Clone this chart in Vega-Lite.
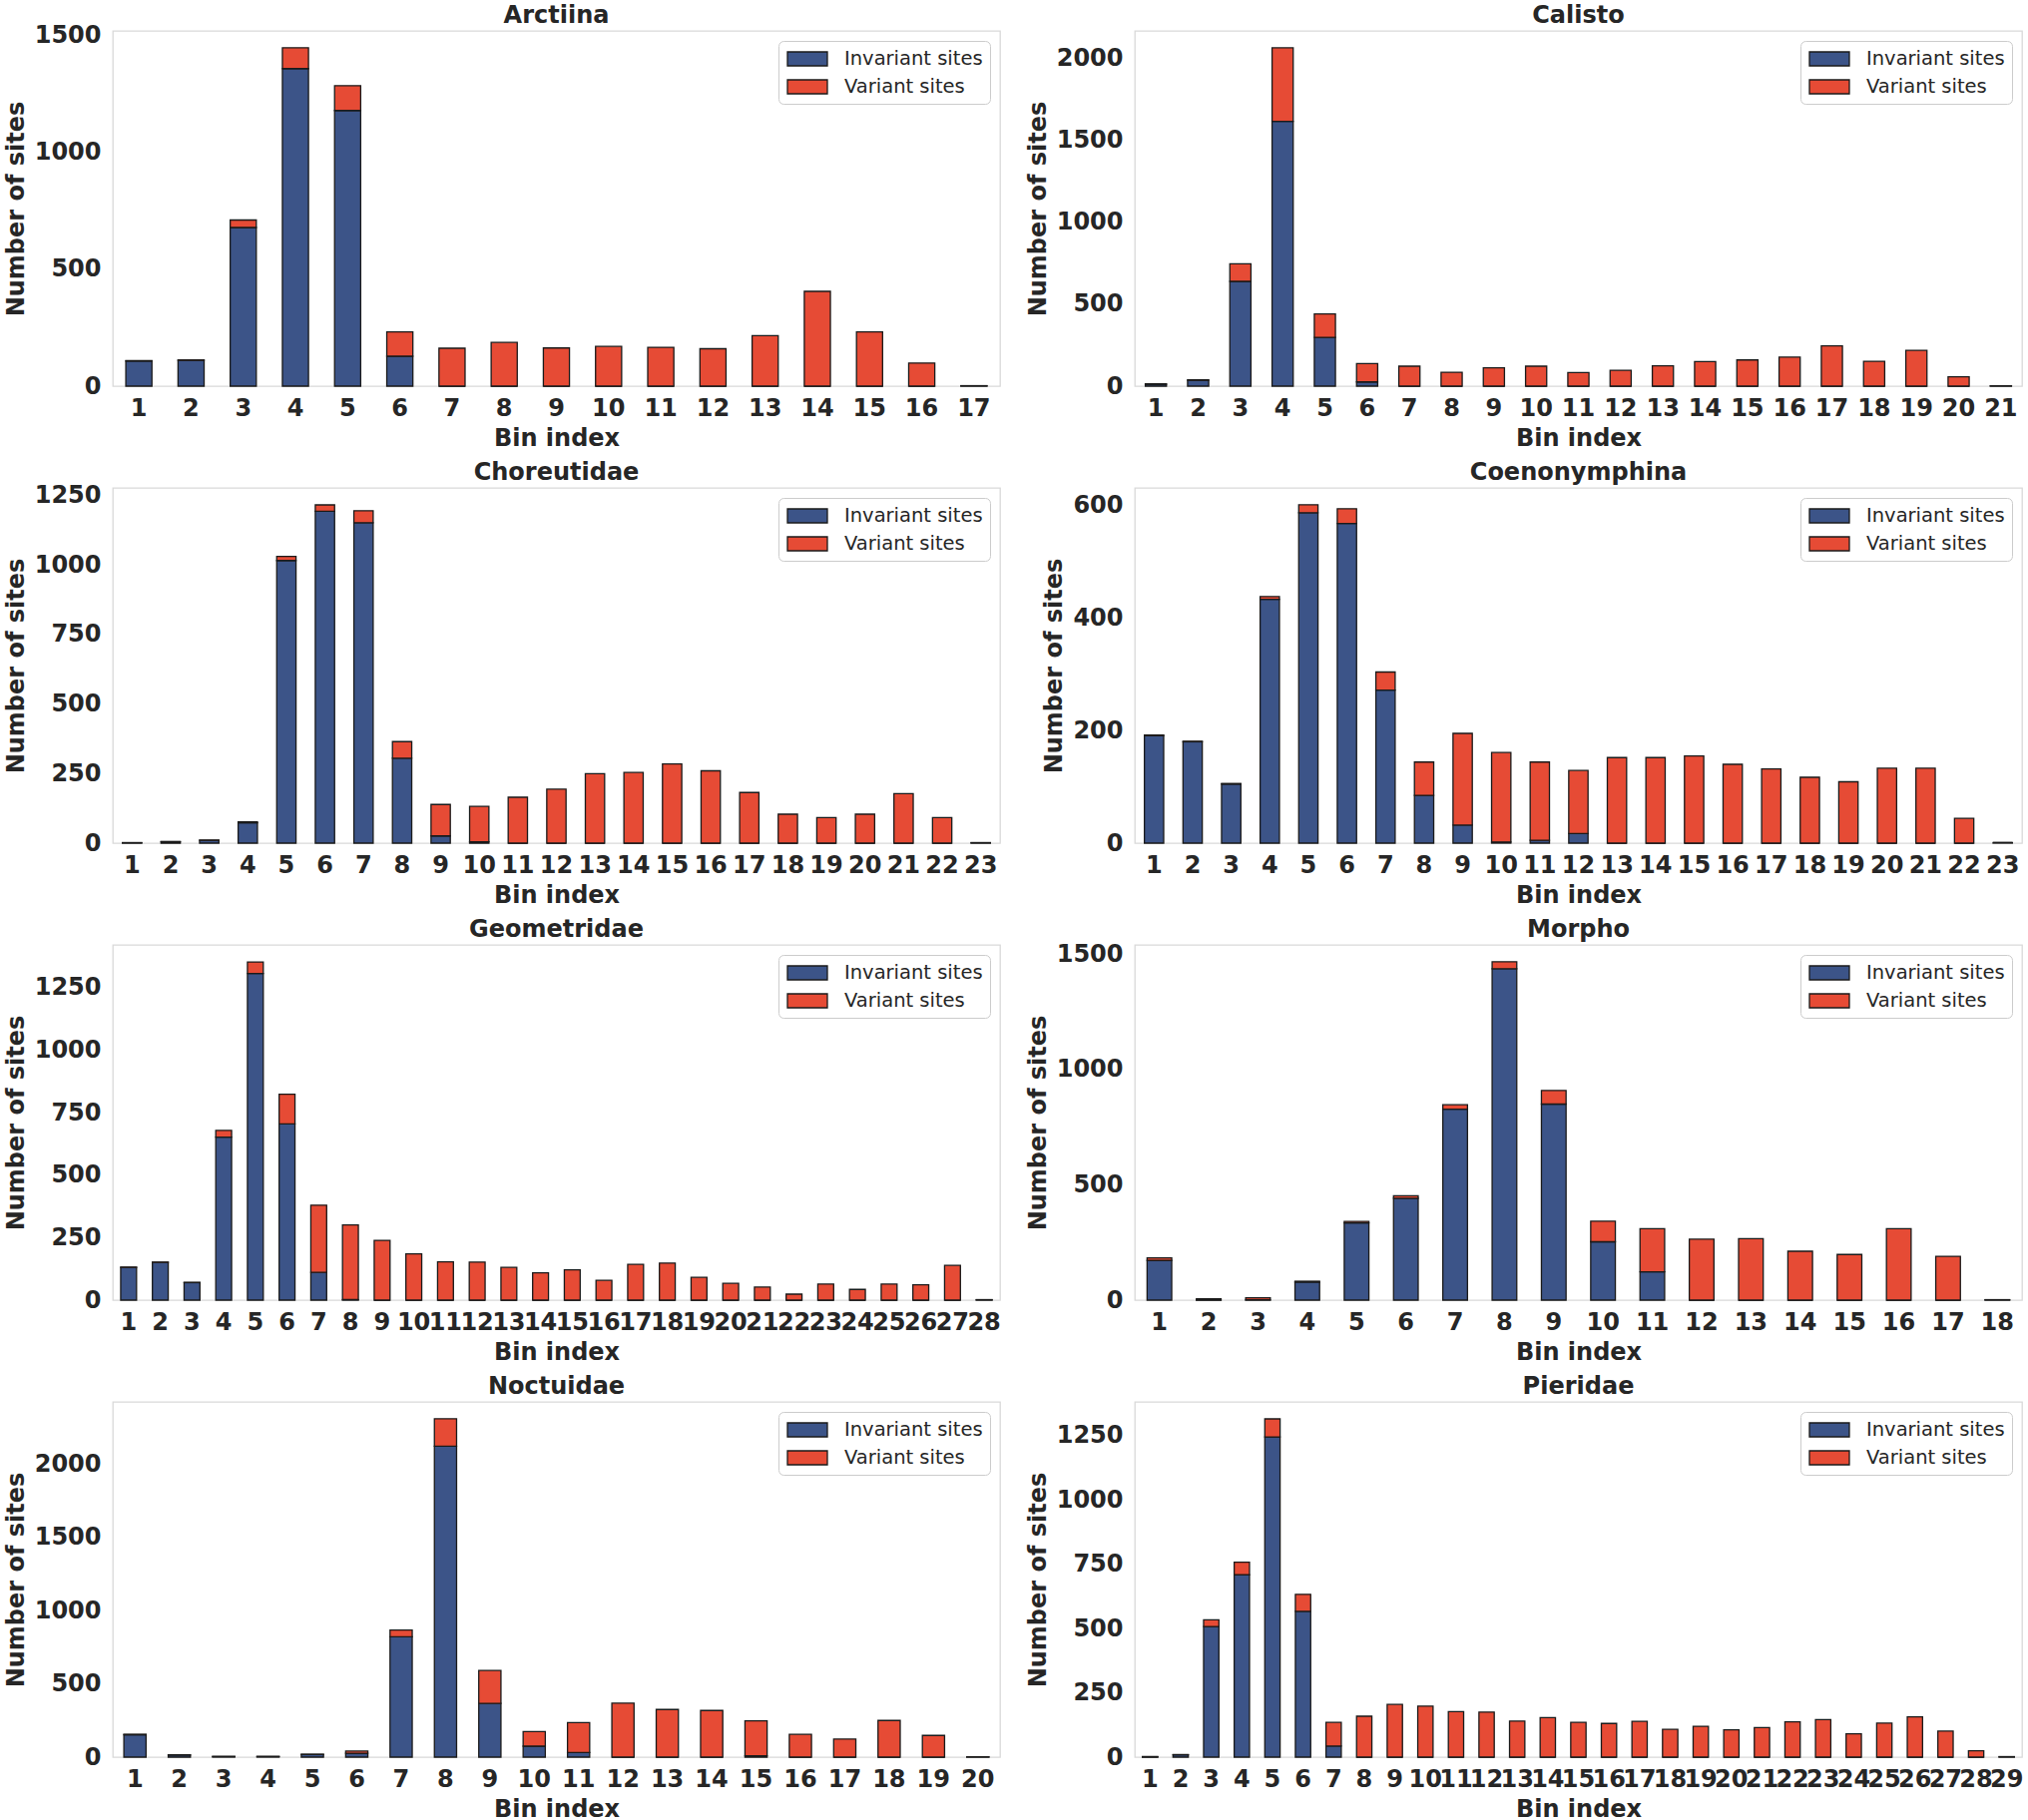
{
  "$schema": "https://vega.github.io/schema/vega-lite/v6.json",
  "background": "white",
  "padding": {"left": 3, "top": 3, "right": 2, "bottom": 2},
  "columns": 2,
  "spacing": {"row": 102, "column": 135},
  "bounds": "flush",
  "resolve": {"scale": {"color": "independent"}, "legend": {"color": "independent"}},
  "datasets": {
    "arctiina": [
      {"bin": 1, "Invariant sites": 107, "Variant sites": 2},
      {"bin": 2, "Invariant sites": 110, "Variant sites": 2},
      {"bin": 3, "Invariant sites": 678, "Variant sites": 32},
      {"bin": 4, "Invariant sites": 1357, "Variant sites": 89},
      {"bin": 5, "Invariant sites": 1178, "Variant sites": 106},
      {"bin": 6, "Invariant sites": 128, "Variant sites": 104},
      {"bin": 7, "Invariant sites": 0, "Variant sites": 162},
      {"bin": 8, "Invariant sites": 0, "Variant sites": 187},
      {"bin": 9, "Invariant sites": 0, "Variant sites": 163},
      {"bin": 10, "Invariant sites": 0, "Variant sites": 170},
      {"bin": 11, "Invariant sites": 0, "Variant sites": 166},
      {"bin": 12, "Invariant sites": 0, "Variant sites": 160},
      {"bin": 13, "Invariant sites": 0, "Variant sites": 216},
      {"bin": 14, "Invariant sites": 0, "Variant sites": 405},
      {"bin": 15, "Invariant sites": 0, "Variant sites": 232},
      {"bin": 16, "Invariant sites": 0, "Variant sites": 99},
      {"bin": 17, "Invariant sites": 1, "Variant sites": 1}
    ],
    "calisto": [
      {"bin": 1, "Invariant sites": 12, "Variant sites": 2},
      {"bin": 2, "Invariant sites": 36, "Variant sites": 3},
      {"bin": 3, "Invariant sites": 640, "Variant sites": 107},
      {"bin": 4, "Invariant sites": 1618, "Variant sites": 449},
      {"bin": 5, "Invariant sites": 298, "Variant sites": 143},
      {"bin": 6, "Invariant sites": 26, "Variant sites": 112},
      {"bin": 7, "Invariant sites": 0, "Variant sites": 122},
      {"bin": 8, "Invariant sites": 0, "Variant sites": 85},
      {"bin": 9, "Invariant sites": 0, "Variant sites": 112},
      {"bin": 10, "Invariant sites": 0, "Variant sites": 122},
      {"bin": 11, "Invariant sites": 0, "Variant sites": 83},
      {"bin": 12, "Invariant sites": 0, "Variant sites": 97},
      {"bin": 13, "Invariant sites": 0, "Variant sites": 124},
      {"bin": 14, "Invariant sites": 0, "Variant sites": 150},
      {"bin": 15, "Invariant sites": 0, "Variant sites": 160},
      {"bin": 16, "Invariant sites": 0, "Variant sites": 177},
      {"bin": 17, "Invariant sites": 0, "Variant sites": 246},
      {"bin": 18, "Invariant sites": 0, "Variant sites": 152},
      {"bin": 19, "Invariant sites": 0, "Variant sites": 219},
      {"bin": 20, "Invariant sites": 0, "Variant sites": 57},
      {"bin": 21, "Invariant sites": 1, "Variant sites": 1}
    ],
    "choreutidae": [
      {"bin": 1, "Invariant sites": 1, "Variant sites": 1},
      {"bin": 2, "Invariant sites": 5, "Variant sites": 1},
      {"bin": 3, "Invariant sites": 10, "Variant sites": 1},
      {"bin": 4, "Invariant sites": 73, "Variant sites": 4},
      {"bin": 5, "Invariant sites": 1016, "Variant sites": 15},
      {"bin": 6, "Invariant sites": 1193, "Variant sites": 23},
      {"bin": 7, "Invariant sites": 1152, "Variant sites": 43},
      {"bin": 8, "Invariant sites": 305, "Variant sites": 60},
      {"bin": 9, "Invariant sites": 26, "Variant sites": 113},
      {"bin": 10, "Invariant sites": 5, "Variant sites": 127},
      {"bin": 11, "Invariant sites": 0, "Variant sites": 165},
      {"bin": 12, "Invariant sites": 0, "Variant sites": 194},
      {"bin": 13, "Invariant sites": 0, "Variant sites": 250},
      {"bin": 14, "Invariant sites": 0, "Variant sites": 254},
      {"bin": 15, "Invariant sites": 0, "Variant sites": 285},
      {"bin": 16, "Invariant sites": 0, "Variant sites": 260},
      {"bin": 17, "Invariant sites": 0, "Variant sites": 182},
      {"bin": 18, "Invariant sites": 0, "Variant sites": 104},
      {"bin": 19, "Invariant sites": 0, "Variant sites": 92},
      {"bin": 20, "Invariant sites": 0, "Variant sites": 104},
      {"bin": 21, "Invariant sites": 0, "Variant sites": 178},
      {"bin": 22, "Invariant sites": 0, "Variant sites": 92},
      {"bin": 23, "Invariant sites": 1, "Variant sites": 1}
    ],
    "coenonymphina": [
      {"bin": 1, "Invariant sites": 191, "Variant sites": 1},
      {"bin": 2, "Invariant sites": 180, "Variant sites": 1},
      {"bin": 3, "Invariant sites": 105, "Variant sites": 1},
      {"bin": 4, "Invariant sites": 433, "Variant sites": 5},
      {"bin": 5, "Invariant sites": 587, "Variant sites": 14},
      {"bin": 6, "Invariant sites": 568, "Variant sites": 26},
      {"bin": 7, "Invariant sites": 272, "Variant sites": 32},
      {"bin": 8, "Invariant sites": 85, "Variant sites": 59},
      {"bin": 9, "Invariant sites": 32, "Variant sites": 163},
      {"bin": 10, "Invariant sites": 2, "Variant sites": 159},
      {"bin": 11, "Invariant sites": 5, "Variant sites": 139},
      {"bin": 12, "Invariant sites": 17, "Variant sites": 112},
      {"bin": 13, "Invariant sites": 0, "Variant sites": 152},
      {"bin": 14, "Invariant sites": 0, "Variant sites": 152},
      {"bin": 15, "Invariant sites": 0, "Variant sites": 155},
      {"bin": 16, "Invariant sites": 0, "Variant sites": 140},
      {"bin": 17, "Invariant sites": 0, "Variant sites": 132},
      {"bin": 18, "Invariant sites": 0, "Variant sites": 117},
      {"bin": 19, "Invariant sites": 0, "Variant sites": 109},
      {"bin": 20, "Invariant sites": 0, "Variant sites": 133},
      {"bin": 21, "Invariant sites": 0, "Variant sites": 133},
      {"bin": 22, "Invariant sites": 0, "Variant sites": 44},
      {"bin": 23, "Invariant sites": 1, "Variant sites": 0}
    ],
    "geometridae": [
      {"bin": 1, "Invariant sites": 131, "Variant sites": 1},
      {"bin": 2, "Invariant sites": 151, "Variant sites": 1},
      {"bin": 3, "Invariant sites": 70, "Variant sites": 1},
      {"bin": 4, "Invariant sites": 652, "Variant sites": 27},
      {"bin": 5, "Invariant sites": 1307, "Variant sites": 46},
      {"bin": 6, "Invariant sites": 705, "Variant sites": 119},
      {"bin": 7, "Invariant sites": 111, "Variant sites": 269},
      {"bin": 8, "Invariant sites": 2, "Variant sites": 299},
      {"bin": 9, "Invariant sites": 0, "Variant sites": 239},
      {"bin": 10, "Invariant sites": 0, "Variant sites": 185},
      {"bin": 11, "Invariant sites": 0, "Variant sites": 153},
      {"bin": 12, "Invariant sites": 0, "Variant sites": 152},
      {"bin": 13, "Invariant sites": 0, "Variant sites": 131},
      {"bin": 14, "Invariant sites": 0, "Variant sites": 109},
      {"bin": 15, "Invariant sites": 0, "Variant sites": 121},
      {"bin": 16, "Invariant sites": 0, "Variant sites": 79},
      {"bin": 17, "Invariant sites": 0, "Variant sites": 143},
      {"bin": 18, "Invariant sites": 0, "Variant sites": 148},
      {"bin": 19, "Invariant sites": 0, "Variant sites": 91},
      {"bin": 20, "Invariant sites": 0, "Variant sites": 67},
      {"bin": 21, "Invariant sites": 0, "Variant sites": 52},
      {"bin": 22, "Invariant sites": 0, "Variant sites": 24},
      {"bin": 23, "Invariant sites": 0, "Variant sites": 64},
      {"bin": 24, "Invariant sites": 0, "Variant sites": 43},
      {"bin": 25, "Invariant sites": 0, "Variant sites": 64},
      {"bin": 26, "Invariant sites": 0, "Variant sites": 61},
      {"bin": 27, "Invariant sites": 0, "Variant sites": 139},
      {"bin": 28, "Invariant sites": 1, "Variant sites": 1}
    ],
    "morpho": [
      {"bin": 1, "Invariant sites": 172, "Variant sites": 11},
      {"bin": 2, "Invariant sites": 1, "Variant sites": 5},
      {"bin": 3, "Invariant sites": 1, "Variant sites": 9},
      {"bin": 4, "Invariant sites": 78, "Variant sites": 4},
      {"bin": 5, "Invariant sites": 335, "Variant sites": 6},
      {"bin": 6, "Invariant sites": 442, "Variant sites": 11},
      {"bin": 7, "Invariant sites": 828, "Variant sites": 19},
      {"bin": 8, "Invariant sites": 1437, "Variant sites": 30},
      {"bin": 9, "Invariant sites": 850, "Variant sites": 59},
      {"bin": 10, "Invariant sites": 253, "Variant sites": 89},
      {"bin": 11, "Invariant sites": 123, "Variant sites": 187},
      {"bin": 12, "Invariant sites": 0, "Variant sites": 264},
      {"bin": 13, "Invariant sites": 0, "Variant sites": 267},
      {"bin": 14, "Invariant sites": 0, "Variant sites": 212},
      {"bin": 15, "Invariant sites": 0, "Variant sites": 198},
      {"bin": 16, "Invariant sites": 0, "Variant sites": 310},
      {"bin": 17, "Invariant sites": 0, "Variant sites": 190},
      {"bin": 18, "Invariant sites": 1, "Variant sites": 1}
    ],
    "noctuidae": [
      {"bin": 1, "Invariant sites": 153, "Variant sites": 2},
      {"bin": 2, "Invariant sites": 14, "Variant sites": 2},
      {"bin": 3, "Invariant sites": 4, "Variant sites": 1},
      {"bin": 4, "Invariant sites": 4, "Variant sites": 1},
      {"bin": 5, "Invariant sites": 18, "Variant sites": 2},
      {"bin": 6, "Invariant sites": 27, "Variant sites": 14},
      {"bin": 7, "Invariant sites": 820, "Variant sites": 46},
      {"bin": 8, "Invariant sites": 2120, "Variant sites": 187},
      {"bin": 9, "Invariant sites": 366, "Variant sites": 225},
      {"bin": 10, "Invariant sites": 75, "Variant sites": 100},
      {"bin": 11, "Invariant sites": 32, "Variant sites": 204},
      {"bin": 12, "Invariant sites": 0, "Variant sites": 368},
      {"bin": 13, "Invariant sites": 0, "Variant sites": 325},
      {"bin": 14, "Invariant sites": 0, "Variant sites": 318},
      {"bin": 15, "Invariant sites": 9, "Variant sites": 239},
      {"bin": 16, "Invariant sites": 0, "Variant sites": 155},
      {"bin": 17, "Invariant sites": 0, "Variant sites": 123},
      {"bin": 18, "Invariant sites": 0, "Variant sites": 250},
      {"bin": 19, "Invariant sites": 0, "Variant sites": 148},
      {"bin": 20, "Invariant sites": 1, "Variant sites": 1}
    ],
    "pieridae": [
      {"bin": 1, "Invariant sites": 1, "Variant sites": 1},
      {"bin": 2, "Invariant sites": 9, "Variant sites": 1},
      {"bin": 3, "Invariant sites": 508, "Variant sites": 26},
      {"bin": 4, "Invariant sites": 709, "Variant sites": 49},
      {"bin": 5, "Invariant sites": 1245, "Variant sites": 70},
      {"bin": 6, "Invariant sites": 567, "Variant sites": 66},
      {"bin": 7, "Invariant sites": 43, "Variant sites": 92},
      {"bin": 8, "Invariant sites": 0, "Variant sites": 159},
      {"bin": 9, "Invariant sites": 0, "Variant sites": 205},
      {"bin": 10, "Invariant sites": 0, "Variant sites": 198},
      {"bin": 11, "Invariant sites": 0, "Variant sites": 177},
      {"bin": 12, "Invariant sites": 0, "Variant sites": 175},
      {"bin": 13, "Invariant sites": 0, "Variant sites": 140},
      {"bin": 14, "Invariant sites": 0, "Variant sites": 154},
      {"bin": 15, "Invariant sites": 0, "Variant sites": 135},
      {"bin": 16, "Invariant sites": 0, "Variant sites": 131},
      {"bin": 17, "Invariant sites": 0, "Variant sites": 139},
      {"bin": 18, "Invariant sites": 0, "Variant sites": 108},
      {"bin": 19, "Invariant sites": 0, "Variant sites": 120},
      {"bin": 20, "Invariant sites": 0, "Variant sites": 106},
      {"bin": 21, "Invariant sites": 0, "Variant sites": 115},
      {"bin": 22, "Invariant sites": 0, "Variant sites": 137},
      {"bin": 23, "Invariant sites": 0, "Variant sites": 146},
      {"bin": 24, "Invariant sites": 0, "Variant sites": 91},
      {"bin": 25, "Invariant sites": 0, "Variant sites": 132},
      {"bin": 26, "Invariant sites": 0, "Variant sites": 157},
      {"bin": 27, "Invariant sites": 0, "Variant sites": 101},
      {"bin": 28, "Invariant sites": 0, "Variant sites": 25},
      {"bin": 29, "Invariant sites": 1, "Variant sites": 1}
    ]
  },
  "concat": [
    {
      "title": {"text": "Arctiina", "offset": -4.8},
      "width": 889, "height": 356,
      "data": {"name": "arctiina"},
      "transform": [{"fold": ["Invariant sites", "Variant sites"], "as": ["type", "sites"]}],
      "mark": "bar",
      "encoding": {
        "x": {"field": "bin", "type": "ordinal", "title": "Bin index"},
        "y": {"field": "sites", "type": "quantitative", "stack": "zero", "title": "Number of sites",
              "scale": {"domain": [0, 1518], "nice": false}, "axis": {"values": [0, 500, 1000, 1500]}},
        "color": {"field": "type", "type": "nominal", "legend": {"title": null}},
        "order": {"field": "type", "type": "ordinal"}
      }
    },
    {
      "title": {"text": "Calisto", "offset": 3},
      "width": 889, "height": 356,
      "data": {"name": "calisto"},
      "transform": [{"fold": ["Invariant sites", "Variant sites"], "as": ["type", "sites"]}],
      "mark": "bar",
      "encoding": {
        "x": {"field": "bin", "type": "ordinal", "title": "Bin index"},
        "y": {"field": "sites", "type": "quantitative", "stack": "zero", "title": "Number of sites",
              "scale": {"domain": [0, 2170], "nice": false}, "axis": {"values": [0, 500, 1000, 1500, 2000]}},
        "color": {"field": "type", "type": "nominal", "legend": {"title": null}},
        "order": {"field": "type", "type": "ordinal"}
      }
    },
    {
      "title": {"text": "Choreutidae", "offset": -1.5},
      "width": 889, "height": 356,
      "data": {"name": "choreutidae"},
      "transform": [{"fold": ["Invariant sites", "Variant sites"], "as": ["type", "sites"]}],
      "mark": "bar",
      "encoding": {
        "x": {"field": "bin", "type": "ordinal", "title": "Bin index"},
        "y": {"field": "sites", "type": "quantitative", "stack": "zero", "title": "Number of sites",
              "scale": {"domain": [0, 1277], "nice": false}, "axis": {"values": [0, 250, 500, 750, 1000, 1250]}},
        "color": {"field": "type", "type": "nominal", "legend": {"title": null}},
        "order": {"field": "type", "type": "ordinal"}
      }
    },
    {
      "title": {"text": "Coenonymphina", "offset": 3},
      "width": 889, "height": 356,
      "data": {"name": "coenonymphina"},
      "transform": [{"fold": ["Invariant sites", "Variant sites"], "as": ["type", "sites"]}],
      "mark": "bar",
      "encoding": {
        "x": {"field": "bin", "type": "ordinal", "title": "Bin index"},
        "y": {"field": "sites", "type": "quantitative", "stack": "zero", "title": "Number of sites",
              "scale": {"domain": [0, 631], "nice": false}, "axis": {"values": [0, 200, 400, 600]}},
        "color": {"field": "type", "type": "nominal", "legend": {"title": null}},
        "order": {"field": "type", "type": "ordinal"}
      }
    },
    {
      "title": {"text": "Geometridae", "offset": 3},
      "width": 889, "height": 356,
      "data": {"name": "geometridae"},
      "transform": [{"fold": ["Invariant sites", "Variant sites"], "as": ["type", "sites"]}],
      "mark": "bar",
      "encoding": {
        "x": {"field": "bin", "type": "ordinal", "title": "Bin index"},
        "y": {"field": "sites", "type": "quantitative", "stack": "zero", "title": "Number of sites",
              "scale": {"domain": [0, 1421], "nice": false}, "axis": {"values": [0, 250, 500, 750, 1000, 1250]}},
        "color": {"field": "type", "type": "nominal", "legend": {"title": null}},
        "order": {"field": "type", "type": "ordinal"}
      }
    },
    {
      "title": {"text": "Morpho", "offset": 0.3},
      "width": 889, "height": 356,
      "data": {"name": "morpho"},
      "transform": [{"fold": ["Invariant sites", "Variant sites"], "as": ["type", "sites"]}],
      "mark": "bar",
      "encoding": {
        "x": {"field": "bin", "type": "ordinal", "title": "Bin index"},
        "y": {"field": "sites", "type": "quantitative", "stack": "zero", "title": "Number of sites",
              "scale": {"domain": [0, 1540], "nice": false}, "axis": {"values": [0, 500, 1000, 1500]}},
        "color": {"field": "type", "type": "nominal", "legend": {"title": null}},
        "order": {"field": "type", "type": "ordinal"}
      }
    },
    {
      "title": {"text": "Noctuidae", "offset": 3},
      "width": 889, "height": 356,
      "data": {"name": "noctuidae"},
      "transform": [{"fold": ["Invariant sites", "Variant sites"], "as": ["type", "sites"]}],
      "mark": "bar",
      "encoding": {
        "x": {"field": "bin", "type": "ordinal", "title": "Bin index"},
        "y": {"field": "sites", "type": "quantitative", "stack": "zero", "title": "Number of sites",
              "scale": {"domain": [0, 2422], "nice": false}, "axis": {"values": [0, 500, 1000, 1500, 2000]}},
        "color": {"field": "type", "type": "nominal", "legend": {"title": null}},
        "order": {"field": "type", "type": "ordinal"}
      }
    },
    {
      "title": {"text": "Pieridae", "offset": 3},
      "width": 889, "height": 356,
      "data": {"name": "pieridae"},
      "transform": [{"fold": ["Invariant sites", "Variant sites"], "as": ["type", "sites"]}],
      "mark": "bar",
      "encoding": {
        "x": {"field": "bin", "type": "ordinal", "title": "Bin index"},
        "y": {"field": "sites", "type": "quantitative", "stack": "zero", "title": "Number of sites",
              "scale": {"domain": [0, 1381], "nice": false}, "axis": {"values": [0, 250, 500, 750, 1000, 1250]}},
        "color": {"field": "type", "type": "nominal", "legend": {"title": null}},
        "order": {"field": "type", "type": "ordinal"}
      }
    }
  ],
  "config": {
    "font": "DejaVu Sans",
    "view": {"stroke": "#d9d9d9", "strokeWidth": 1.3},
    "range": {"category": ["#3C5488", "#E64B35"]},
    "scale": {"bandPaddingInner": 0.5, "bandPaddingOuter": 0.25},
    "bar": {"stroke": "#1a1a1a", "strokeWidth": 1.3},
    "title": {"font": "DejaVu Sans", "fontSize": 24, "fontWeight": "bold", "color": "#262626", "anchor": "middle", "frame": "group"},
    "axis": {
      "grid": false, "ticks": false, "domain": false,
      "labelFont": "DejaVu Sans", "labelFontSize": 24, "labelFontWeight": "bold", "labelColor": "#262626",
      "titleFont": "DejaVu Sans", "titleFontSize": 24, "titleFontWeight": "bold", "titleColor": "#262626",
      "labelPadding": 12, "titlePadding": 6, "labelOverlap": false
    },
    "axisX": {"labelAngle": 0, "labelPadding": 10, "titlePadding": 6},
    "axisY": {"format": "d"},
    "legend": {
      "orient": "top-right", "offset": 10,
      "padding": 7, "cornerRadius": 5, "fillColor": "white", "strokeColor": "#cccccc",
      "labelFont": "DejaVu Sans", "labelFontSize": 19.5, "labelColor": "#262626",
      "labelOffset": 26, "rowPadding": 7,
      "symbolType": "M-2,-0.7H2V0.7H-2Z", "symbolSize": 400, "symbolOffset": 11,
      "symbolStrokeColor": "#1a1a1a", "symbolStrokeWidth": 1.5
    }
  }
}
